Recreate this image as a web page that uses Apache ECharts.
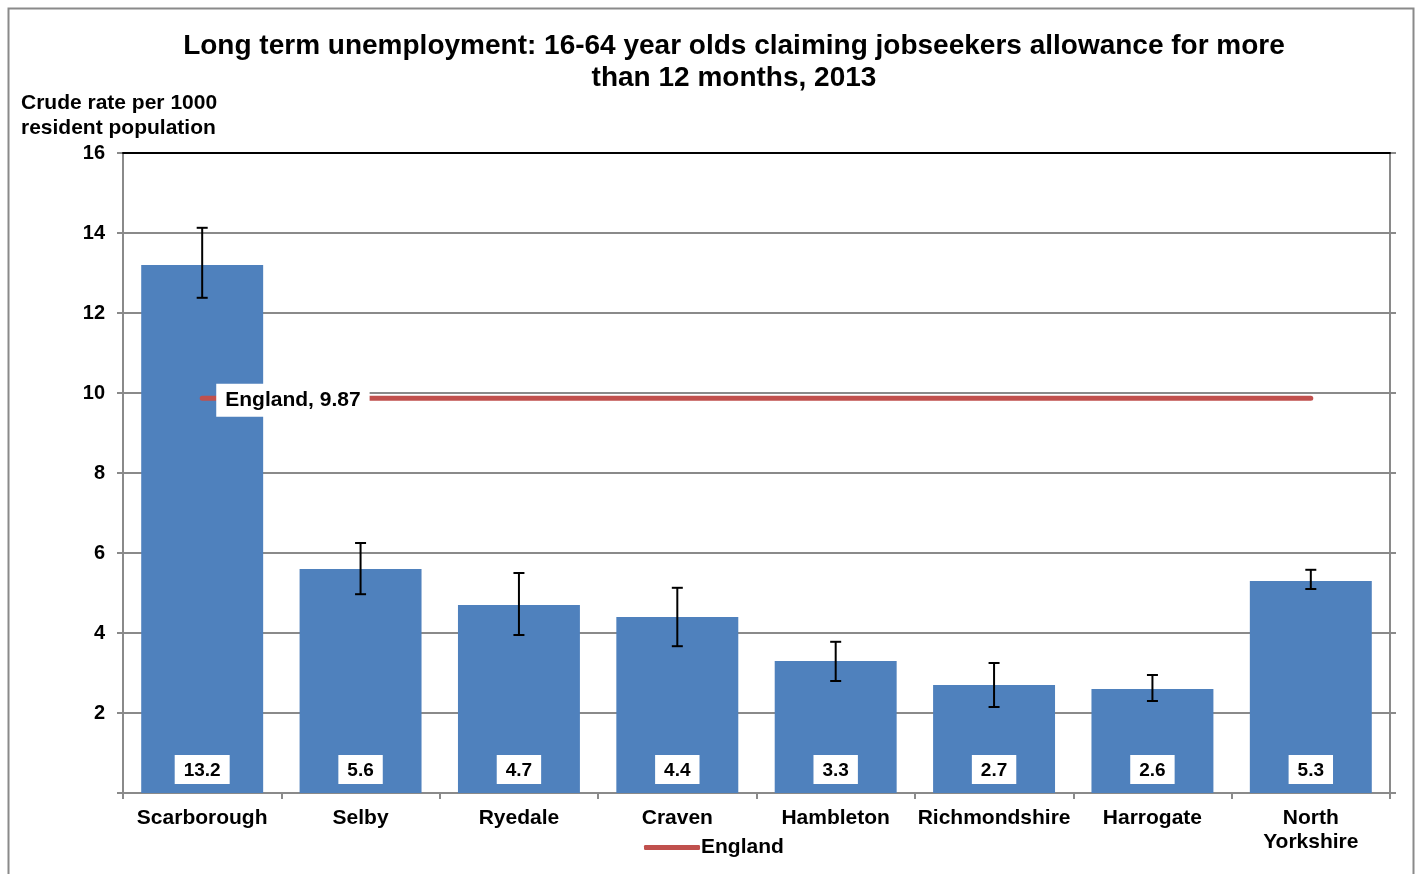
<!DOCTYPE html>
<html>
<head>
<meta charset="utf-8">
<script src="https://cdn.jsdelivr.net/npm/echarts@6/dist/echarts.min.js"></script>
<style>
  html, body { margin: 0; padding: 0; background: #fff; }
  #chart { width: 1420px; height: 874px; }
</style>
</head>
<body>
<div id="chart"></div>
<script>
// categories and values
var districts = ['Scarborough', 'Selby', 'Ryedale', 'Craven', 'Hambleton', 'Richmondshire', 'Harrogate', 'North Yorkshire'];
var rates = [13.2, 5.6, 4.7, 4.4, 3.3, 2.7, 2.6, 5.3];
var lowerCI = [12.38, 4.97, 3.95, 3.67, 2.8, 2.15, 2.3, 5.1];
var upperCI = [14.13, 6.25, 5.5, 5.13, 3.78, 3.25, 2.95, 5.58];
var englandRate = 9.87;
var yTicks = [0, 2, 4, 6, 8, 10, 12, 14, 16];

var font = 'Liberation Sans, Arial, sans-serif';
var myChart = echarts.init(document.getElementById('chart'));

var englandData = districts.map(function (d, i) {
  if (i === 0) {
    return {
      value: englandRate,
      label: {
        show: true,
        position: 'right',
        distance: 14,
        offset: [0, 2],
        formatter: 'England, ' + englandRate,
        backgroundColor: '#fff',
        padding: [7, 9, 5, 9],
        color: '#000',
        fontWeight: 'bold',
        fontSize: 21,
        fontFamily: font
      }
    };
  }
  return englandRate;
});

var errorData = districts.map(function (d, i) {
  return [i, lowerCI[i], upperCI[i]];
});

var option = {
  animation: false,
  textStyle: { fontFamily: font },
  title: {
    text: 'Long term unemployment: 16-64 year olds claiming jobseekers allowance for more\nthan 12 months, 2013',
    left: 729,
    top: 25,
    textAlign: 'center',
    textStyle: {
      fontSize: 28,
      fontWeight: 'bold',
      color: '#000',
      fontFamily: font,
      lineHeight: 32
    }
  },
  graphic: [
    {
      type: 'rect',
      shape: { x: 8.5, y: 8.5, width: 1405, height: 900 },
      style: { fill: 'none', stroke: '#8a8a8a', lineWidth: 2 },
      silent: true,
      z: -10
    },
    {
      type: 'text',
      left: 21,
      top: 91,
      style: {
        text: 'Crude rate per 1000\nresident population',
        font: 'bold 21px ' + font,
        fill: '#000',
        lineHeight: 25
      }
    }
  ],
  legend: {
    data: ['England'],
    left: 639,
    top: 832,
    icon: 'roundRect',
    itemWidth: 56,
    itemHeight: 5,
    itemGap: 4,
    textStyle: { fontSize: 21, fontWeight: 'bold', color: '#000', fontFamily: font, padding: [0, 0, 0, -4] }
  },
  grid: { left: 123, right: 30, top: 153, bottom: 81 },
  xAxis: [
    {
      type: 'category',
      data: districts,
      position: 'bottom',
      axisLine: { lineStyle: { color: '#8a8a8a', width: 2 } },
      axisTick: { show: true, length: 6, lineStyle: { color: '#8a8a8a', width: 2 } },
      axisLabel: {
        color: '#000',
        fontSize: 21,
        fontWeight: 'bold',
        fontFamily: font,
        margin: 13,
        lineHeight: 24,
        interval: 0,
        formatter: function (v) { return v === 'North Yorkshire' ? 'North\nYorkshire' : v; }
      }
    },
    {
      type: 'category',
      data: districts,
      position: 'top',
      z: 10,
      axisLine: { onZero: false, lineStyle: { color: '#000', width: 2 } },
      axisTick: { show: false },
      axisLabel: { show: false }
    }
  ],
  yAxis: [
    {
      type: 'value',
      min: 0,
      max: 16,
      interval: 2,
      position: 'left',
      axisLine: { show: true, lineStyle: { color: '#8a8a8a', width: 2 } },
      axisTick: { show: true, length: 6, lineStyle: { color: '#8a8a8a', width: 2 } },
      axisLabel: {
        color: '#000',
        fontSize: 20,
        fontWeight: 'bold',
        fontFamily: font,
        margin: 18,
        formatter: function (v) { return yTicks.indexOf(v) > 0 ? String(v) : ''; }
      },
      splitLine: { show: true, lineStyle: { color: '#8a8a8a', width: 2 } }
    },
    {
      type: 'value',
      min: 0,
      max: 16,
      interval: 2,
      position: 'right',
      axisLine: { show: true, lineStyle: { color: '#8a8a8a', width: 2 } },
      axisTick: { show: true, length: 6, lineStyle: { color: '#8a8a8a', width: 2 } },
      axisLabel: { show: false },
      splitLine: { show: false }
    }
  ],
  series: [
    {
      name: 'Rate',
      type: 'bar',
      data: rates,
      barCategoryGap: '23%',
      itemStyle: { color: '#4F81BD' },
      label: {
        show: true,
        position: 'insideBottom',
        distance: 9,
        backgroundColor: '#fff',
        padding: [6, 9, 4, 9],
        color: '#000',
        fontSize: 19,
        fontWeight: 'bold',
        fontFamily: font
      },
      z: 2
    },
    {
      name: 'CI',
      type: 'custom',
      data: errorData,
      encode: { x: 0, y: [1, 2] },
      renderItem: function (params, api) {
        var i = api.value(0);
        var lo = api.coord([i, api.value(1)]);
        var hi = api.coord([i, api.value(2)]);
        var cap = 5.5;
        var style = { stroke: '#000', lineWidth: 2 };
        return {
          type: 'group',
          children: [
            { type: 'line', shape: { x1: lo[0], y1: lo[1], x2: hi[0], y2: hi[1] }, style: style },
            { type: 'line', shape: { x1: lo[0] - cap, y1: lo[1], x2: lo[0] + cap, y2: lo[1] }, style: style },
            { type: 'line', shape: { x1: hi[0] - cap, y1: hi[1], x2: hi[0] + cap, y2: hi[1] }, style: style }
          ]
        };
      },
      z: 3
    },
    {
      name: 'England',
      type: 'line',
      data: englandData,
      symbol: 'circle',
      symbolSize: 0.1,
      lineStyle: { color: '#C0504D', width: 5, cap: 'round' },
      itemStyle: { color: '#C0504D' },
      z: 4
    }
  ]
};

myChart.setOption(option);
</script>
</body>
</html>
